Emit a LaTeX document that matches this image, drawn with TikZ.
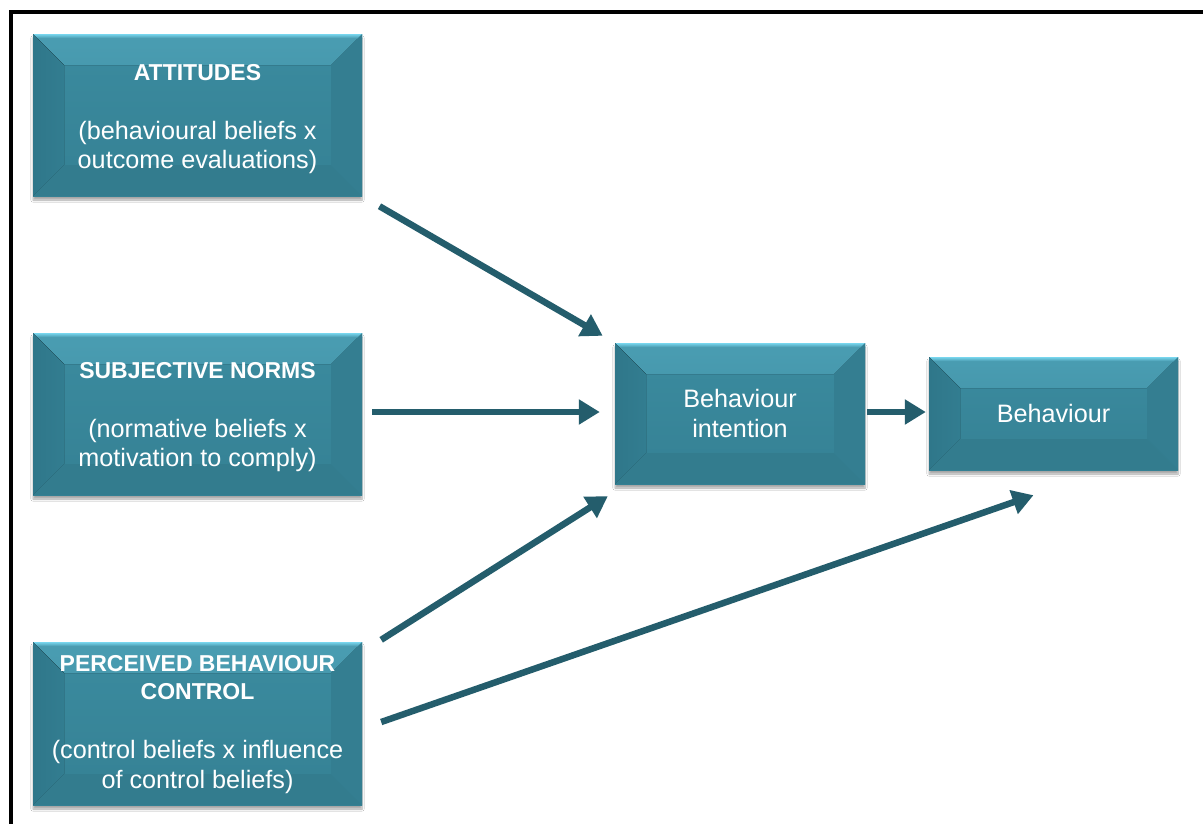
\documentclass[tikz,border=0pt]{standalone}
\usepackage{fontspec}
\setmainfont{Liberation Sans}
\usetikzlibrary{arrows.meta,calc,shadows.blur}

\definecolor{boxtop}{HTML}{3B8B9F}
\definecolor{boxbot}{HTML}{358194}
\definecolor{bevhi}{HTML}{78D6EE}
\definecolor{bevmid}{HTML}{4A9DB2}
\definecolor{bevface}{HTML}{3C8CA0}
\definecolor{bevleft}{HTML}{2F778A}
\definecolor{bevright}{HTML}{347E91}
\definecolor{bevbot}{HTML}{337C8E}
\definecolor{arrowcol}{HTML}{245D6C}

\tikzset{
  bevbox/.style={
    inner sep=0pt, text=white, align=center,
    top color=boxtop, bottom color=boxbot,
    blur shadow={shadow xshift=0pt, shadow yshift=-4pt, shadow blur steps=6, shadow opacity=35},
    path picture={
      \def\bw{31pt}
      % top bevel
      \fill[top color=bevmid, bottom color=bevface]
        (path picture bounding box.north west) -- (path picture bounding box.north east)
        -- ([xshift=-\bw,yshift=-\bw]path picture bounding box.north east)
        -- ([xshift=\bw,yshift=-\bw]path picture bounding box.north west) -- cycle;
      \fill[top color=bevhi, bottom color=bevmid]
        (path picture bounding box.north west) rectangle ([yshift=-4pt]path picture bounding box.north east);
      % left bevel
      \fill[left color=bevleft, right color=bevleft!70!boxtop]
        (path picture bounding box.north west) -- ([xshift=\bw,yshift=-\bw]path picture bounding box.north west)
        -- ([xshift=\bw,yshift=\bw]path picture bounding box.south west)
        -- (path picture bounding box.south west) -- cycle;
      % right bevel
      \fill[bevright]
        (path picture bounding box.north east) -- ([xshift=-\bw,yshift=-\bw]path picture bounding box.north east)
        -- ([xshift=-\bw,yshift=\bw]path picture bounding box.south east)
        -- (path picture bounding box.south east) -- cycle;
      % bottom bevel
      \fill[bevbot]
        (path picture bounding box.south west) -- (path picture bounding box.south east)
        -- ([xshift=-\bw,yshift=\bw]path picture bounding box.south east)
        -- ([xshift=\bw,yshift=\bw]path picture bounding box.south west) -- cycle;
    }
  },
  bodyfont/.style={font=\fontsize{25.2}{29.5}\selectfont},
  arr/.style={draw=arrowcol, line width=6.5pt, -{Triangle[length=21pt,width=24pt]}},
  frame/.style={line width=4pt, black}
}
\newcommand{\ttl}[1]{{\fontsize{23}{29.5}\selectfont\textbf{#1}}}

\begin{document}
\begin{tikzpicture}[x=1pt,y=-1pt]
  \useasboundingbox (0,0) rectangle (1203,823);
  \clip (0,0) rectangle (1203,823);
  \fill[white] (0,0) rectangle (1203,823);

  % outer frame (runs off the right and bottom edges)
  \draw[frame] (10.5,830) -- (10.5,11.5) -- (1210,11.5);

  % boxes
  \node[bevbox, minimum width=329pt, minimum height=162pt] (att) at (197.5,115) {};
  \node[bevbox, minimum width=329pt, minimum height=162pt] (sn) at (197.5,414) {};
  \node[bevbox, minimum width=329pt, minimum height=163pt] (pbc) at (197.5,723.5) {};
  \node[bevbox, minimum width=250pt, minimum height=141pt] (int) at (740,413.5) {};
  \node[bevbox, minimum width=249pt, minimum height=113pt] (beh) at (1053.5,413.5) {};

  % box texts
  \node[bodyfont, text=white, align=center] (attt) at ($(att.center)+(0,4)$)
    {\ttl{ATTITUDES}\\ \mbox{}\\ (behavioural beliefs x\\ outcome evaluations)};
  \node[bodyfont, text=white, align=center] (snt) at ($(sn.center)+(0,3)$)
    {\ttl{SUBJECTIVE NORMS}\\ \mbox{}\\ (normative beliefs x\\ motivation to comply)};
  \node[bodyfont, text=white, align=center] (pbct) at ($(pbc.center)+(0,1)$)
    {\ttl{PERCEIVED BEHAVIOUR}\\[-1.5pt] \ttl{CONTROL}\\ \mbox{}\\ (control beliefs x influence\\ of control beliefs)};
  \node[bodyfont, text=white, align=center] (intt) at (int.center) {Behaviour\\ intention};
  \node[bodyfont, text=white, align=center] (beht) at (beh.center) {Behaviour};

  % connectors
  \draw[arr, shorten <=20pt, shorten >=14pt] (att.south east) -- (int.north west);
  \draw[arr] ($(sn.east)+(10,-2)$) -- ($(int.west)+(-15,-1.5)$);
  \draw[arr] ($(pbc.north east)+(19,-2)$) -- ($(int.south west)+(-7,12)$);
  \draw[arr] ($(pbc.east)+(19,-1.5)$) -- ($(beh.south)+(-20,25)$);
  \draw[arr] ($(int.east)+(2,-1.5)$) -- ($(beh.west)+(-3,-1.5)$);
\end{tikzpicture}
\end{document}
